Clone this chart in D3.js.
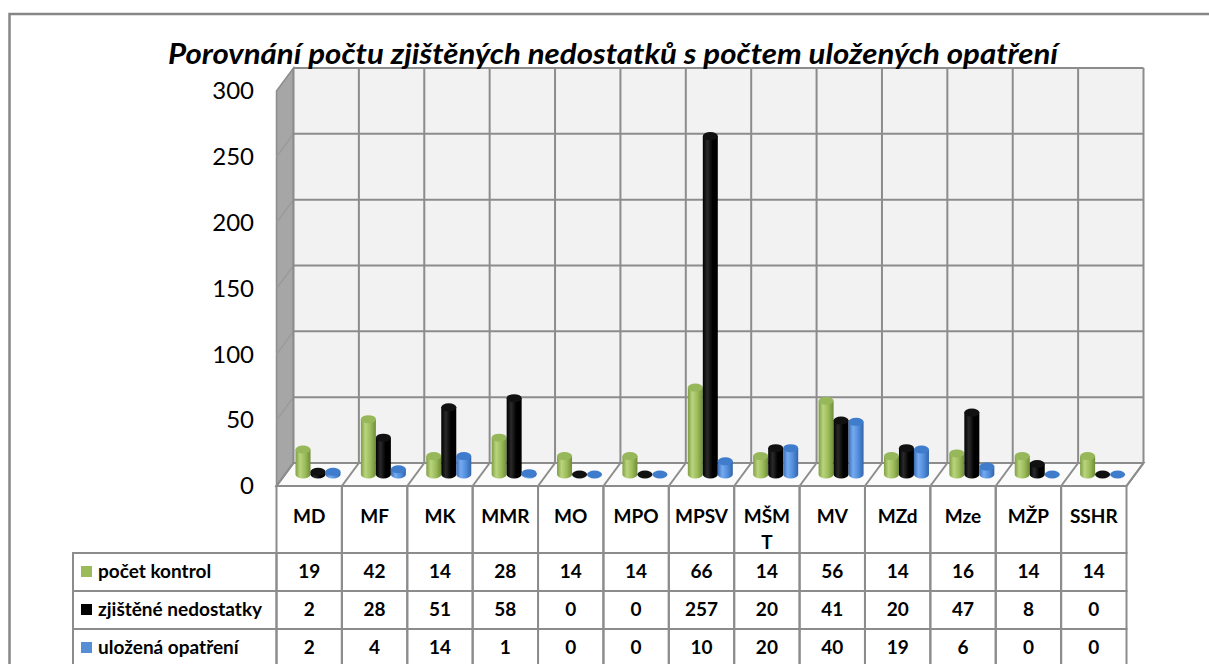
<!DOCTYPE html>
<html>
<head>
<meta charset="utf-8">
<script src="https://cdn.jsdelivr.net/npm/d3@7"></script>
<style>
  body { margin: 0; background: #fff; }
  svg { display: block; font-family: Lato, "Noto Sans", sans-serif; }
</style>
</head>
<body>
<div id="chart"></div>
<script>
// data
const categories = ["MD", "MF", "MK", "MMR", "MO", "MPO", "MPSV", "MŠMT", "MV", "MZd", "Mze", "MŽP", "SSHR"];
const categoryLines = [["MD"], ["MF"], ["MK"], ["MMR"], ["MO"], ["MPO"], ["MPSV"], ["MŠM", "T"], ["MV"], ["MZd"], ["Mze"], ["MŽP"], ["SSHR"]];
const seriesNames = ["počet kontrol", "zjištěné nedostatky", "uložená opatření"];
const pocetKontrol = [19, 42, 14, 28, 14, 14, 66, 14, 56, 14, 16, 14, 14];
const zjisteneNedostatky = [2, 28, 51, 58, 0, 0, 257, 20, 41, 20, 47, 8, 0];
const ulozenaOpatreni = [2, 4, 14, 1, 0, 0, 10, 20, 40, 19, 6, 0, 0];
const yTicks = [0, 50, 100, 150, 200, 250, 300];

const seriesValues = [pocetKontrol, zjisteneNedostatky, ulozenaOpatreni];

// set the dimensions of the page
const W = 1209, H = 664;
const depth = {dx: 17, dy: -23};
const gridColor = "#8c8c8c";

const svg = d3.select("#chart")
  .append("svg")
  .attr("width", W)
  .attr("height", H);

const defs = svg.append("defs");

// outer border of the chart area
svg.append("rect")
  .attr("x", 9.5).attr("y", 14)
  .attr("width", 1230).attr("height", 700)
  .attr("fill", "#fff")
  .attr("stroke", "#868686")
  .attr("stroke-width", 2.5);

// scales
const x = d3.scaleBand()
  .domain(categories)
  .range([276.5, 1126.5]);

const y = d3.scaleLinear()
  .domain([0, 300])
  .range([486, 91]);

const xs = d3.scaleBand()
  .domain(seriesNames)
  .range([10.5, 55.5]);

const x0 = x.range()[0], x1 = x.range()[1];
const yTop = y(300), yBase = y(0);

// side wall
svg.append("polygon")
  .attr("points", [[x0, yTop], [x0 + depth.dx, yTop + depth.dy], [x0 + depth.dx, yBase + depth.dy], [x0, yBase]].join(" "))
  .attr("fill", "#a6a6a6")
  .attr("stroke", gridColor)
  .attr("stroke-width", 1.5);

svg.append("g")
  .selectAll("line")
  .data(yTicks.slice(1, -1))
  .enter()
  .append("line")
    .attr("x1", x0).attr("y1", d => y(d))
    .attr("x2", x0 + depth.dx).attr("y2", d => y(d) + depth.dy)
    .attr("stroke", "#9a9a9a")
    .attr("stroke-width", 1.5);

// back wall
svg.append("rect")
  .attr("x", x0 + depth.dx).attr("y", yTop + depth.dy)
  .attr("width", x1 - x0).attr("height", yBase - yTop)
  .attr("fill", "#f2f2f2");

// horizontal gridlines
svg.append("g")
  .selectAll("line")
  .data(yTicks)
  .enter()
  .append("line")
    .attr("x1", x0 + depth.dx).attr("x2", x1 + depth.dx)
    .attr("y1", d => y(d) + depth.dy).attr("y2", d => y(d) + depth.dy)
    .attr("stroke", gridColor)
    .attr("stroke-width", 2);

// vertical gridlines
const bounds = categories.map(c => x(c)).concat([x1]);
svg.append("g")
  .selectAll("line")
  .data(bounds)
  .enter()
  .append("line")
    .attr("x1", d => d + depth.dx).attr("x2", d => d + depth.dx)
    .attr("y1", yTop + depth.dy).attr("y2", yBase + depth.dy)
    .attr("stroke", gridColor)
    .attr("stroke-width", 2);

// floor
svg.append("polygon")
  .attr("points", [[x0, yBase], [x1, yBase], [x1 + depth.dx, yBase + depth.dy], [x0 + depth.dx, yBase + depth.dy]].join(" "))
  .attr("fill", "#fbfbfb")
  .attr("stroke", gridColor)
  .attr("stroke-width", 2);

svg.append("g")
  .selectAll("line")
  .data(bounds)
  .enter()
  .append("line")
    .attr("x1", d => d).attr("y1", yBase)
    .attr("x2", d => d + depth.dx).attr("y2", yBase + depth.dy)
    .attr("stroke", gridColor)
    .attr("stroke-width", 2);

// gradients for cylinders
const cylColors = [
  {body: ["#7f9e43", "#b9d47e", "#9bbb59", "#6f8c37"], top: "#97b85a"},
  {body: ["#000000", "#2a2a2a", "#000000", "#000000"], top: "#111111"},
  {body: ["#3a6fb8", "#76aaf0", "#4f8ddb", "#3464a8"], top: "#3f7dcc"}
];
cylColors.forEach((c, i) => {
  const g = defs.append("linearGradient")
    .attr("id", "cyl" + i)
    .attr("x1", "0").attr("x2", "1").attr("y1", "0").attr("y2", "0");
  g.append("stop").attr("offset", "0%").attr("stop-color", c.body[0]);
  g.append("stop").attr("offset", "30%").attr("stop-color", c.body[1]);
  g.append("stop").attr("offset", "65%").attr("stop-color", c.body[2]);
  g.append("stop").attr("offset", "100%").attr("stop-color", c.body[3]);
});

// cylinders
const rx = 7.5, ry = 4;
const bars = [];
categories.forEach((c, ci) => {
  seriesNames.forEach((s, si) => {
    bars.push({cat: c, series: s, si: si, value: seriesValues[si][ci]});
  });
});

const cyl = svg.append("g")
  .selectAll("g")
  .data(bars)
  .enter()
  .append("g");

cyl.each(function(d) {
  const g = d3.select(this);
  const cx = x(d.cat) + xs(d.series) + xs.bandwidth() / 2 + depth.dx / 2;
  const by = y(0) + depth.dy / 2;
  const ty = y(d.value) + depth.dy / 2;
  if (d.value > 0) {
    g.append("path")
      .attr("d", `M${cx - rx},${ty} L${cx - rx},${by} A${rx},${ry} 0 0 0 ${cx + rx},${by} L${cx + rx},${ty} Z`)
      .attr("fill", `url(#cyl${d.si})`);
  }
  g.append("ellipse")
    .attr("cx", cx).attr("cy", ty)
    .attr("rx", rx).attr("ry", ry)
    .attr("fill", cylColors[d.si].top);
});

// y axis labels
const yAxis = svg.append("g")
  .attr("transform", "translate(254,0)")
  .call(d3.axisLeft(y).tickValues(yTicks).tickSize(0).tickPadding(0));
yAxis.select(".domain").remove();
yAxis.selectAll("text")
  .attr("font-family", "Lato, 'Noto Sans', sans-serif")
  .attr("font-size", 24)
  .attr("fill", "#000");

// title
svg.append("text")
  .attr("x", 613)
  .attr("y", 64)
  .attr("text-anchor", "middle")
  .attr("font-size", 28)
  .attr("font-weight", "bold")
  .attr("font-style", "italic")
  .attr("textLength", 890)
  .attr("lengthAdjust", "spacingAndGlyphs")
  .text("Porovnání počtu zjištěných nedostatků s počtem uložených opatření");

// data table
const rowTop = 486, catRowH = 67, rowH = 38;
const legendX = 73;
const fs = 19;
const table = svg.append("g");

// category row
table.append("g")
  .selectAll("rect")
  .data(categories)
  .enter()
  .append("rect")
    .attr("x", d => x(d)).attr("y", rowTop)
    .attr("width", x.bandwidth()).attr("height", catRowH)
    .attr("fill", "none")
    .attr("stroke", gridColor)
    .attr("stroke-width", 2);

table.append("g")
  .selectAll("text")
  .data(categories)
  .enter()
  .append("text")
    .attr("x", d => x(d) + x.bandwidth() / 2)
    .attr("y", rowTop + 37)
    .attr("text-anchor", "middle")
    .attr("font-size", fs)
    .attr("font-weight", "bold")
    .each(function(d, i) {
      const t = d3.select(this);
      categoryLines[i].forEach((line, li) => {
        t.append("tspan")
          .attr("x", x(d) + x.bandwidth() / 2)
          .attr("dy", li === 0 ? 0 : 26)
          .text(line);
      });
    });

// series rows
seriesNames.forEach((s, si) => {
  const ry0 = rowTop + catRowH + si * rowH;
  table.append("rect")
    .attr("x", legendX).attr("y", ry0)
    .attr("width", x0 - legendX).attr("height", rowH)
    .attr("fill", "none")
    .attr("stroke", gridColor)
    .attr("stroke-width", 2);
  table.append("rect")
    .attr("x", 81).attr("y", ry0 + rowH / 2 - 6)
    .attr("width", 11).attr("height", 11)
    .attr("fill", ["#9bbb59", "#000000", "#558ed5"][si]);
  table.append("text")
    .attr("x", 98).attr("y", ry0 + rowH / 2 + 6)
    .attr("font-size", fs)
    .attr("font-weight", "bold")
    .text(s);

  table.append("g")
    .selectAll("rect")
    .data(categories)
    .enter()
    .append("rect")
      .attr("x", d => x(d)).attr("y", ry0)
      .attr("width", x.bandwidth()).attr("height", rowH)
      .attr("fill", "none")
      .attr("stroke", gridColor)
      .attr("stroke-width", 2);

  table.append("g")
    .selectAll("text")
    .data(seriesValues[si])
    .enter()
    .append("text")
      .attr("x", (d, i) => x(categories[i]) + x.bandwidth() / 2)
      .attr("y", ry0 + rowH / 2 + 6)
      .attr("text-anchor", "middle")
      .attr("font-size", fs)
      .attr("font-weight", "bold")
      .text(d => d);
});
</script>
</body>
</html>
